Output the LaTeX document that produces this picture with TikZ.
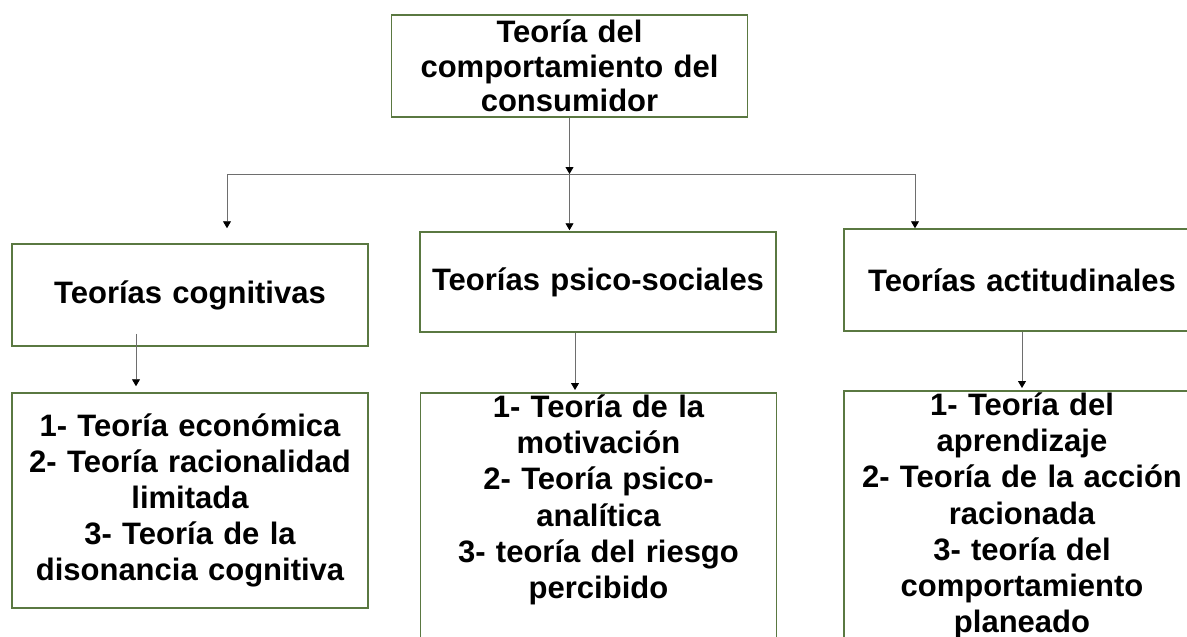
\documentclass[tikz,border=0pt]{standalone}
\usepackage{fontspec}
\setmainfont{Liberation Sans}
\usetikzlibrary{positioning,arrows.meta}

\definecolor{boxgreen}{RGB}{90,120,65}
\definecolor{linkgray}{RGB}{110,110,110}

\tikzset{
  theory/.style={draw=boxgreen, line width=1.5pt, fill=white, align=center,
    text width=350pt, inner xsep=3pt, inner ysep=2pt,
    font=\bfseries\fontsize{31}{36.2}\selectfont},
  link/.style={draw=linkgray, line width=0.9pt,
    -{Triangle[length=7pt,width=8pt,color=black,fill=black]}},
  bar/.style={draw=linkgray, line width=0.9pt}
}

\begin{document}
\begin{tikzpicture}[x=1pt,y=-1pt]

    % -- page frame --
    \clip (0,0) rectangle (1187,637);
    \fill[white] (0,0) rectangle (1187,637);

    % -- root of the tree --
    \node[theory, minimum height=102pt, font=\bfseries\fontsize{31}{34.5}\selectfont]
      (root) at (569.5,66) {Teoría del\\comportamiento del\\consumidor};

    % -- three families of theories --
    \node[theory, minimum height=102pt] (cognitive)    at (190,295)  {Teorías cognitivas};
    \node[theory, minimum height=100pt] (psychosocial) at (598,282)  {Teorías psico-sociales};
    \node[theory, minimum height=102pt] (attitudinal)  at (1022,280) {Teorías actitudinales};

    % -- lists under each family (the last two run past the page) --
    \node[theory, minimum height=215pt] (cogList) at (190,500.5)
      {1- Teoría económica\\2- Teoría racionalidad\\limitada\\3- Teoría de la\\disonancia cognitiva};
    \node[theory, anchor=north, text depth=260pt] (psyList) at (598.5,392)
      {1- Teoría de la\\motivación\\2- Teoría psico-\\analítica\\3- teoría del riesgo\\percibido};
    \node[theory, anchor=north, text depth=260pt] (attList) at (1022,390)
      {1- Teoría del\\aprendizaje\\2- Teoría de la acción\\racionada\\3- teoría del\\comportamiento\\planeado};

    % -- branching bar --
    \coordinate (split)    at (569.5,174);
    \coordinate (barLeft)  at (227,174);
    \coordinate (barRight) at (915,174);

    \draw[link] (root.south) -- (split);
    \draw[bar] (barLeft) -- (barRight);

    \draw[link, shorten >=15pt] (barLeft) -- (barLeft |- cognitive.north);
    \draw[link, shorten >=1pt]  (split) -- (split |- psychosocial.north);
    \draw[link]                 (barRight) -- (barRight |- attitudinal.north);

    % -- down to the lists --
    \draw[link, shorten >=6pt] ([xshift=-54pt,yshift=13pt]cognitive.south) -- ([xshift=-54pt]cogList.north);
    \draw[link, shorten >=2pt] ([xshift=-23pt]psychosocial.south) -- ([xshift=-23.5pt]psyList.north);
    \draw[link, shorten >=2pt] (attitudinal.south) -- (attList.north);

\end{tikzpicture}
\end{document}
